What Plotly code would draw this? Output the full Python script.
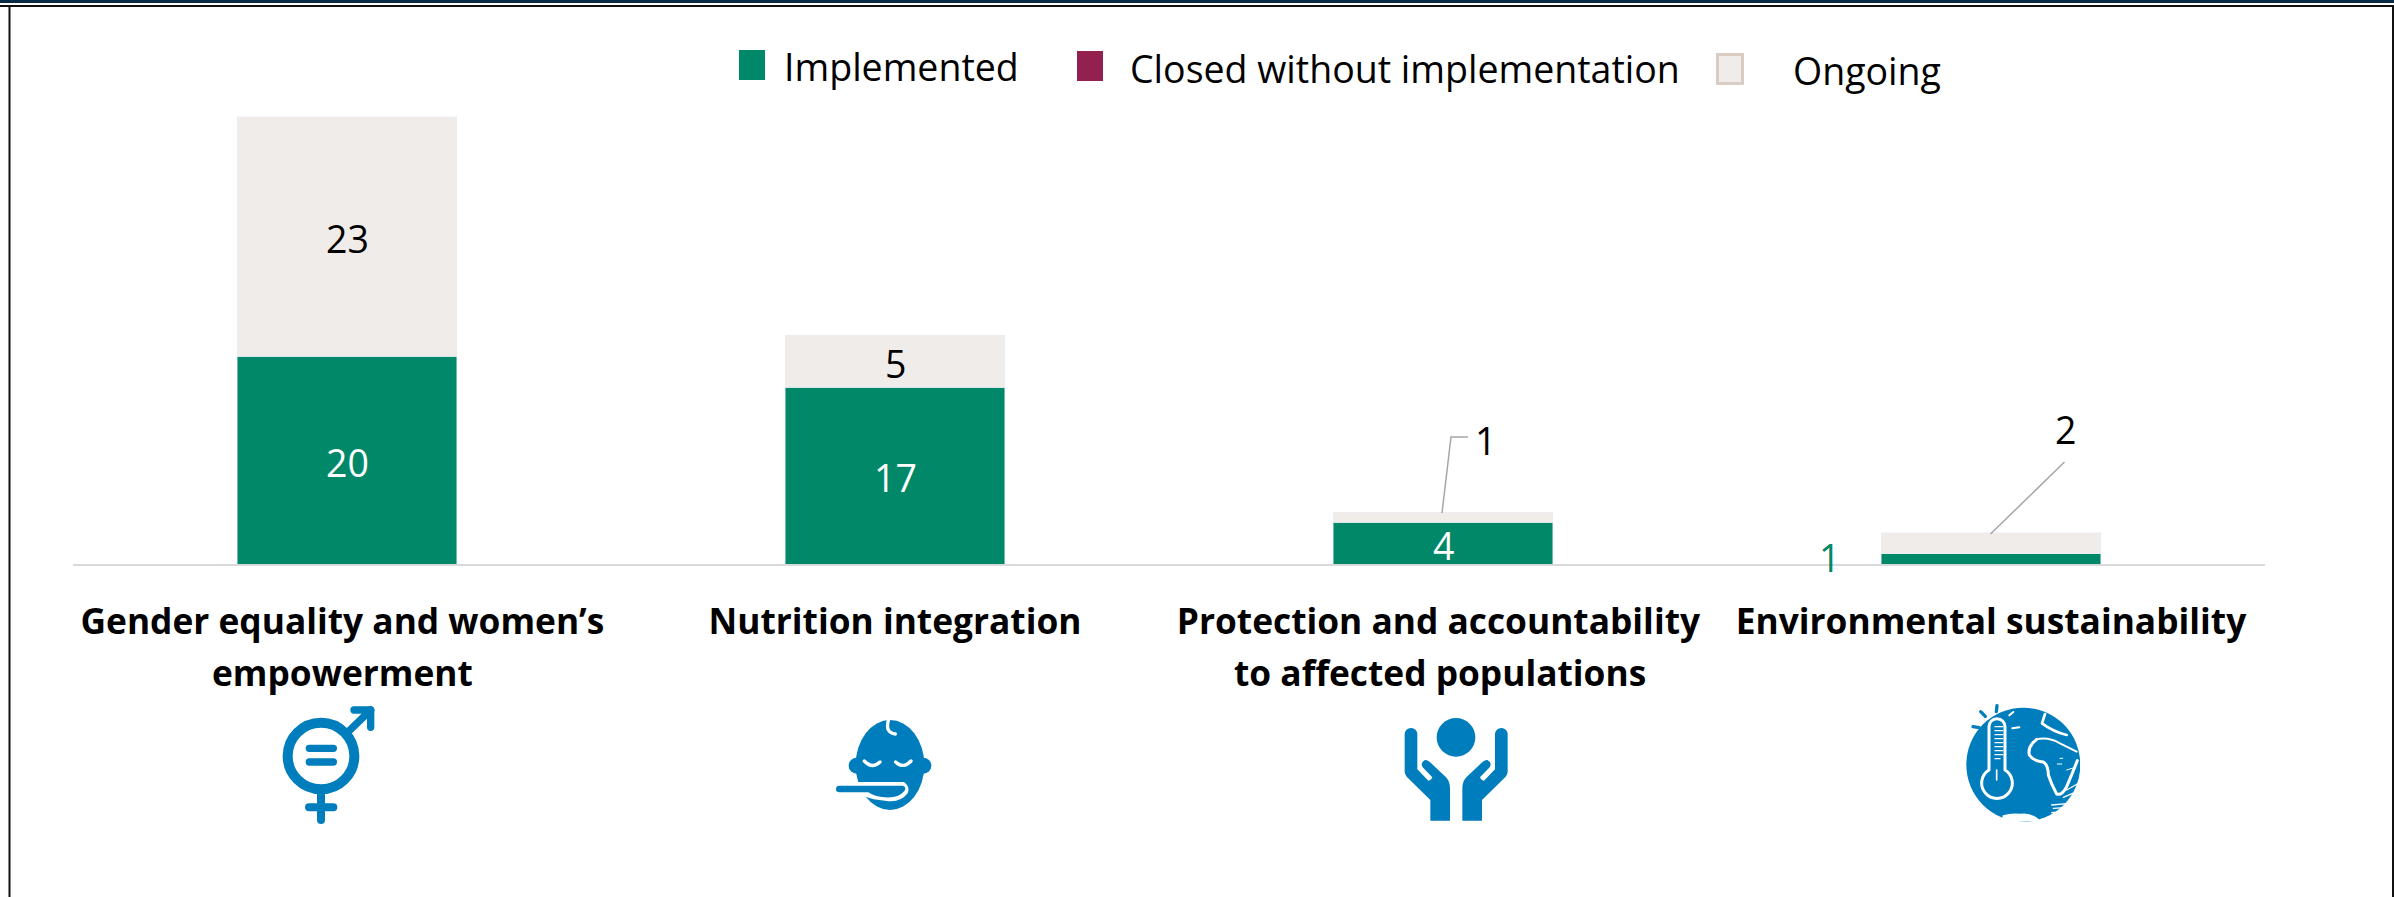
import base64
import plotly.graph_objects as go

# ---------- data ----------
first_lines = ["Gender equality and women’s\u00a0", "Nutrition integration",
               "Protection and accountability\u00a0", "Environmental sustainability"]
second_lines = ["empowerment", "", "to affected populations", ""]
positions = [0, 1, 2, 3]
implemented = [20, 17, 4, 1]
closed = [0, 0, 0, 0]
ongoing = [23, 5, 1, 2]
series_names = ["Implemented", "Closed without implementation", "Ongoing"]

GREEN = "#008868"
PURPLE = "#93214F"
BEIGE = "#F0ECE9"
BEIGE_EDGE = "#D9CCC3"
BLUE = "#007DBC"
FONT = "Open Sans"
W, H = 2394, 897
L, R, T, B = 73, 2265, 64, 564
SIZE = 37.5
LABEL_SIZE = 35.3


def fx(px):
    return (px - L) / (R - L)


def fy(py):
    return (B - py) / (B - T)


def svg_uri(body, w=480, h=450):
    svg = (f'<svg xmlns="http://www.w3.org/2000/svg" width="{w}" height="{h}" '
           f'viewBox="0 0 {w} {h}">{body}</svg>')
    return "data:image/svg+xml;base64," + base64.b64encode(svg.encode()).decode()


gender_icon = f'''
<g fill="none" stroke="{BLUE}" stroke-linecap="round" stroke-linejoin="round">
<circle cx="213" cy="198" r="100" stroke-width="30"/>
<path d="M295 125 L362 60" stroke-width="22"/>
<path d="M312 60 H362 V112" stroke-width="22"/>
<path d="M178 175 H250 M178 216 H250" stroke-width="22"/>
<path d="M213 300 V390 M177 352 H250" stroke-width="24"/>
</g>'''

baby_icon = f'''
<ellipse cx="240" cy="225" rx="103" ry="135" fill="{BLUE}"/>
<circle cx="140" cy="227" r="24" fill="{BLUE}"/><circle cx="340" cy="227" r="24" fill="{BLUE}"/>
<path d="M163 213 Q186 238 210 216 M257 216 Q280 238 303 213 M235 92 Q225 128 256 132"
 fill="none" stroke="#fff" stroke-width="10" stroke-linecap="round"/>
<path d="M137 276 L282 276 Q302 290 293 310 Q270 340 225 332 Q190 330 160 318 L60 318 L60 276 Z" fill="#fff"/>
<path d="M88 287 L278 287 Q290 290 284 302 Q265 325 225 322 Q195 320 175 307 L88 307 A10 10 0 0 1 88 287 Z" fill="{BLUE}"/>'''

hand = ('M104 133 A19 19 0 0 1 142 133 V238 L175 272 Q183 272 187 262 L158 232 '
        'Q150 218 165 210 Q172 208 182 218 L228 262 Q240 275 240 295 V392 H181 V330 '
        'L110 260 Q104 252 104 245 Z')
hands_icon = f'''
<circle cx="258" cy="142" r="58" fill="{BLUE}"/>
<path d="{hand}" fill="{BLUE}"/>
<path d="{hand}" fill="{BLUE}" transform="translate(517 0) scale(-1 1)"/>'''

globe_icon = f'''
<circle cx="310" cy="224" r="171" fill="{BLUE}"/>
<g fill="none" stroke="{BLUE}" stroke-width="10" stroke-linecap="round">
<path d="M231 47 L229 65 M182 65 L196 79 M159 110 L177 113"/></g>
<g fill="none" stroke="#fff" stroke-linecap="round" stroke-linejoin="round">
<path d="M207 240 V110 A24 24 0 0 1 255 110 V240 A46 46 0 1 1 207 240 Z" stroke-width="9"/>
<path d="M225 110 H248 M225 122 H248 M225 134 H248 M225 146 H248 M225 158 H248 M225 170 H248 M225 182 H248 M225 194 H248 M225 206 H240"
 stroke-width="4"/>
<path d="M230 240 V270" stroke-width="5"/>
<path d="M268 76 L280 66 M277 115 L298 112" stroke-width="6"/>
<path d="M375 72 L366 100 Q400 125 440 135" stroke-width="8"/>
<path d="M350 148 Q322 170 328 195 Q340 213 370 216 Q385 225 385 255 Q395 285 410 312 Q425 318 440 290 Q455 255 472 212"
 stroke-width="9"/>
<path d="M350 148 Q385 140 420 160 Q450 175 470 185" stroke-width="6"/>
<path d="M250 378 Q275 370 300 374 Q330 368 355 390 L250 396 Z" stroke-width="5" fill="#fff"/>
<path d="M395 345 L450 340 M400 355 L445 352 M395 368 L430 365 M430 322 L470 305 M440 300 L472 282" stroke-width="4"/>
<path d="M420 205 L428 205 M412 222 L425 222 M440 240 L465 232" stroke-width="3"/>
</g>'''

icons = [(250, 690, gender_icon), (810, 690, baby_icon), (1370, 690, hands_icon), (1920, 690, globe_icon)]

# ---------- figure ----------
fig = go.Figure()
fig.add_bar(name=series_names[0], x=positions, y=implemented, marker_color=GREEN)
fig.add_bar(name=series_names[1], x=positions, y=closed, marker_color=PURPLE)
fig.add_bar(name=series_names[2], x=positions, y=ongoing, marker_color=BEIGE)

annotations = []
# data labels inside the bars
for pos, imp, ong in zip(positions, implemented, ongoing):
    if imp > 1:
        annotations.append(dict(x=pos, y=imp / 2, text=str(imp), showarrow=False, yshift=-2,
                                font=dict(family=FONT, size=SIZE, color="white")))
    if ong > 2:
        annotations.append(dict(x=pos, y=imp + ong / 2, text=str(ong), showarrow=False, yshift=-2,
                                font=dict(family=FONT, size=SIZE, color="black")))
# data labels placed outside the bars
annotations.append(dict(x=2, y=implemented[2] + ongoing[2], text=str(ongoing[2]), showarrow=False,
                        xshift=42, yshift=72, font=dict(family=FONT, size=SIZE, color="black")))
annotations.append(dict(x=3, y=implemented[3] + ongoing[3], text=str(ongoing[3]), showarrow=False,
                        xshift=74, yshift=103, font=dict(family=FONT, size=SIZE, color="black")))
annotations.append(dict(x=3, y=implemented[3], text=str(implemented[3]), showarrow=False,
                        xshift=-162, yshift=-4, font=dict(family=FONT, size=SIZE, color=GREEN)))
# second line of the category labels
for pos, line, shift in zip(positions, second_lines, [-5, 0, -3, 0]):
    if line:
        annotations.append(dict(x=pos, y=0, text=f"<b>{line}</b>", showarrow=False, xshift=shift,
                                yref="y", yshift=-108,
                                font=dict(family=FONT, size=LABEL_SIZE, color="black")))
# legend rows
for name, xc, yc in zip(series_names, [782, 1128, 1791], [66, 68, 70]):
    annotations.append(dict(x=fx(xc), y=fy(yc), xref="paper", yref="paper", text=name, showarrow=False,
                            xanchor="left", yanchor="middle",
                            font=dict(family=FONT, size=SIZE, color="black")))

shapes = [
    # legend swatches
    dict(type="rect", xref="paper", yref="paper", x0=fx(739), x1=fx(765), y0=fy(50), y1=fy(80),
         fillcolor=GREEN, line_width=0),
    dict(type="rect", xref="paper", yref="paper", x0=fx(1077), x1=fx(1103), y0=fy(51), y1=fy(81),
         fillcolor=PURPLE, line_width=0),
    dict(type="rect", xref="paper", yref="paper", x0=fx(1717.5), x1=fx(1742.5), y0=fy(54.5), y1=fy(83.5),
         fillcolor=BEIGE, line=dict(color=BEIGE_EDGE, width=3)),
    # leader lines
    dict(type="path", xref="paper", yref="paper",
         path=f"M {fx(1442)} {fy(513)} L {fx(1451)} {fy(437)} L {fx(1468)} {fy(437)}",
         line=dict(color="#A6A6A6", width=1.5)),
    dict(type="line", xref="paper", yref="paper", x0=fx(1990.5), y0=fy(534), x1=fx(2064.5), y1=fy(462),
         line=dict(color="#A6A6A6", width=1.5)),
    # page frame
    dict(type="rect", xref="paper", yref="paper", x0=fx(0), x1=fx(W), y0=fy(0), y1=fy(3),
         fillcolor="#0B2B45", line_width=0),
    dict(type="rect", xref="paper", yref="paper", x0=fx(0), x1=fx(W), y0=fy(5), y1=fy(7),
         fillcolor="#111111", line_width=0),
    dict(type="line", xref="paper", yref="paper", x0=fx(9.5), x1=fx(9.5), y0=fy(6), y1=fy(H),
         line=dict(color="#111111", width=2)),
    dict(type="line", xref="paper", yref="paper", x0=fx(W - 1), x1=fx(W - 1), y0=fy(6), y1=fy(H),
         line=dict(color="#111111", width=2)),
]

images = [dict(source=svg_uri(body), xref="paper", yref="paper", x=fx(px), y=fy(py),
               sizex=160 / (R - L), sizey=150 / (B - T), xanchor="left", yanchor="top",
               sizing="stretch", layer="above")
          for px, py, body in icons]

fig.update_layout(
    width=W, height=H, autosize=False, barmode="stack", bargap=0.6,
    margin=dict(l=L, r=W - R, t=T, b=H - B, pad=0),
    paper_bgcolor="white", plot_bgcolor="white", showlegend=False,
    font=dict(family=FONT, size=SIZE, color="black"),
    xaxis=dict(range=[-0.5, 3.5], tickmode="array", tickvals=positions,
               ticktext=[f"<b>{t}</b>" for t in first_lines], tickangle=0,
               ticks="", showgrid=False, zeroline=False, showline=True,
               linecolor="#D9D9D9", linewidth=2, ticklabelstandoff=26,
               tickfont=dict(family=FONT, size=LABEL_SIZE, color="black")),
    yaxis=dict(range=[0, 500 / 10.4], visible=False, showgrid=False, zeroline=False),
    annotations=annotations, shapes=shapes, images=images,
    hovermode=False,
)
fig.write_html("out.html", config=dict(displayModeBar=False),
               post_script="document.body.style.margin='0';document.body.style.overflow='hidden';")
